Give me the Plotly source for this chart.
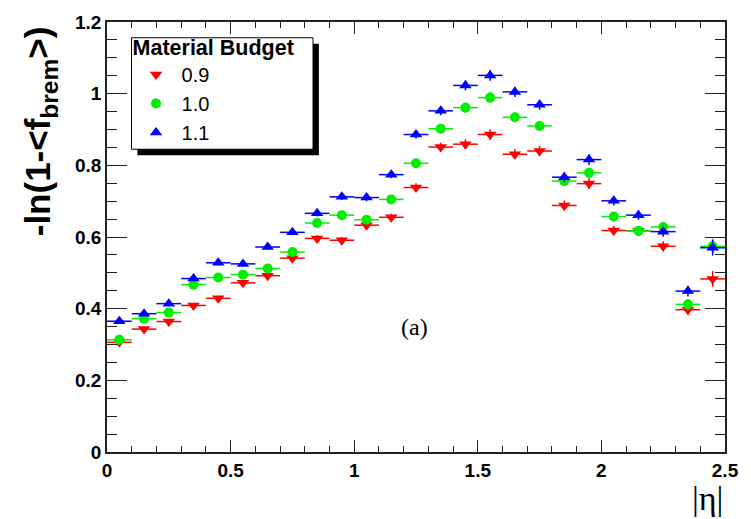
import plotly.graph_objects as go

# |eta| bin centres (bin width 0.1)
eta = [0.05, 0.15, 0.25, 0.35, 0.45, 0.55, 0.65, 0.75, 0.85, 0.95,
       1.05, 1.15, 1.25, 1.35, 1.45, 1.55, 1.65, 1.75, 1.85, 1.95,
       2.05, 2.15, 2.25, 2.35, 2.45]
half_bin = [0.05] * len(eta)

# -ln(1-<f_brem>) per material budget scale factor
mb_09 = [0.306, 0.343, 0.364, 0.409, 0.429, 0.472, 0.492, 0.541, 0.596, 0.591,
         0.633, 0.655, 0.738, 0.851, 0.859, 0.886, 0.831, 0.840, 0.688, 0.749,
         0.618, 0.617, 0.574, 0.397, 0.483]
mb_10 = [0.313, 0.372, 0.389, 0.467, 0.487, 0.495, 0.512, 0.558, 0.639, 0.661,
         0.648, 0.705, 0.806, 0.902, 0.961, 0.989, 0.934, 0.910, 0.756, 0.779,
         0.657, 0.617, 0.628, 0.412, 0.574]
mb_11 = [0.365, 0.386, 0.414, 0.484, 0.528, 0.525, 0.572, 0.613, 0.666, 0.712,
         0.710, 0.774, 0.886, 0.952, 1.023, 1.051, 1.005, 0.969, 0.767, 0.816,
         0.701, 0.661, 0.615, 0.449, 0.570]
stat_err = [0.006, 0.006, 0.006, 0.007, 0.007, 0.007, 0.008, 0.008, 0.009, 0.009,
            0.010, 0.010, 0.012, 0.012, 0.014, 0.015, 0.014, 0.014, 0.014, 0.015,
            0.013, 0.013, 0.014, 0.015, 0.022]

series = [
    ("0.9", mb_09, "#ff0000", "triangle-down", 11),
    ("1.0", mb_10, "#00ee00", "circle", 10),
    ("1.1", mb_11, "#0000ff", "triangle-up", 11),
]

fig = go.Figure()
for name, vals, color, symbol, size in series:
    fig.add_trace(go.Scatter(
        x=eta, y=vals, name=name, mode="markers",
        marker=dict(symbol=symbol, size=size, color=color, line=dict(width=0)),
        error_x=dict(type="data", array=half_bin, color=color, thickness=1.5, width=0),
        error_y=dict(type="data", array=stat_err, color=color, thickness=1.5, width=0),
    ))

L, R, T, B = 107, 14, 16, 67
W, H = 751, 519
PW, PH = W - L - R, H - T - B


def px(x):
    return (x - L) / PW


def py(y):
    return (H - B - y) / PH


axis_common = dict(
    showline=True, linecolor="#222222", linewidth=1.5, mirror="ticks",
    ticks="inside", tickcolor="#222222", tickwidth=1.2,
    showgrid=False, zeroline=False,
    tickfont=dict(family="Liberation Sans", size=19, color="black", weight="bold"),
)

fig.update_xaxes(
    range=[0, 2.5], tickvals=[0, 0.5, 1, 1.5, 2, 2.5], ticklen=12,
    minor=dict(dtick=0.1, ticklen=6, ticks="inside", tickcolor="#222222", tickwidth=1.2),
    **axis_common,
)
fig.update_yaxes(
    range=[0, 1.2], tickvals=[0, 0.2, 0.4, 0.6, 0.8, 1.0, 1.2], ticklen=20,
    minor=dict(dtick=0.05, ticklen=10, ticks="inside", tickcolor="#222222", tickwidth=1.2),
    **axis_common,
)

# legend frame with drop shadow
lx0, ly0, lx1, ly1 = 132, 32, 317, 145
fig.add_shape(type="rect", xref="paper", yref="paper",
              x0=px(lx0 + 6), x1=px(lx1 + 6), y0=py(ly1 + 6), y1=py(ly0 + 6),
              fillcolor="black", line=dict(width=0), layer="above")
fig.add_shape(type="rect", xref="paper", yref="paper",
              x0=px(lx0), x1=px(lx1), y0=py(ly1), y1=py(ly0),
              fillcolor="white", line=dict(color="black", width=1), layer="above")

fig.update_layout(
    width=W, height=H,
    margin=dict(l=L, r=R, t=T, b=B),
    paper_bgcolor="white", plot_bgcolor="white",
    showlegend=True,
    legend=dict(
        x=px(lx0 - 1), y=py(ly0 - 11), xanchor="left", yanchor="top",
        bgcolor="rgba(0,0,0,0)", borderwidth=0,
        title=dict(text="<b>Material Budget</b>", side="top",
                   font=dict(family="Liberation Sans", size=21.5, color="black")),
        font=dict(family="Liberation Sans", size=20, color="black"),
        tracegroupgap=0, itemwidth=41,
    ),
    annotations=[
        dict(text="-ln(1-<f<sub>brem</sub>>)", textangle=-90,
             xref="paper", yref="paper", x=px(39), y=py(18),
             xanchor="center", yanchor="top", showarrow=False,
             font=dict(family="Liberation Sans", size=35, color="black", weight="bold")),
        dict(text="|η|", xref="paper", yref="paper", x=px(719), y=py(499),
             xanchor="center", yanchor="middle", showarrow=False,
             font=dict(family="Liberation Serif", size=34, color="black")),
        dict(text="(a)", xref="x", yref="y", x=1.242, y=0.35,
             xanchor="center", yanchor="middle", showarrow=False,
             font=dict(family="Liberation Serif", size=24, color="black")),
    ],
)

fig.write_html("out.html")
